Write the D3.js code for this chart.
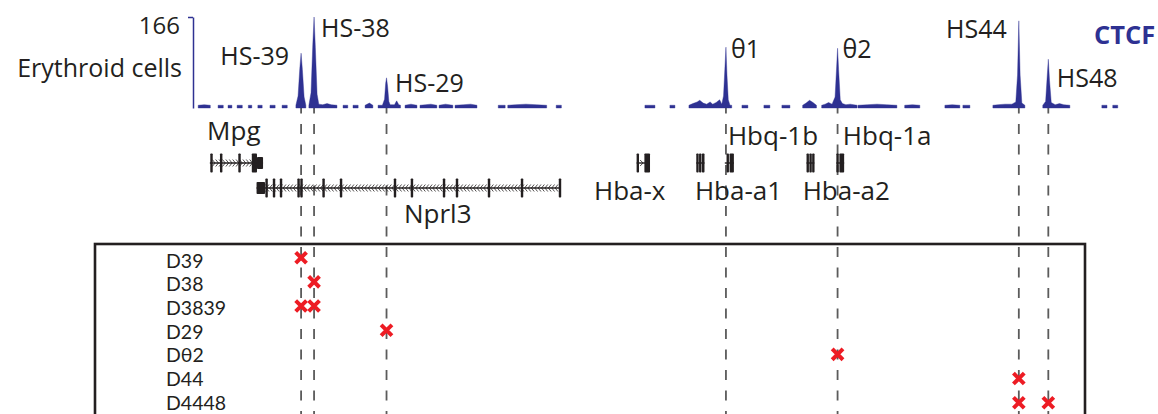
<!DOCTYPE html>
<html>
<head>
<meta charset="utf-8">
<script src="https://cdn.jsdelivr.net/npm/d3@7"></script>
<style>
  body { margin: 0; background: #fff; }
  svg { display: block; }
  text { font-family: "Open Sans", sans-serif; fill: #231f20; }
</style>
</head>
<body>
<svg id="chart" width="1158" height="414"></svg>
<script>
// ---------------- DATA ----------------
const trackName = "Erythroid cells";
const trackMax = 166;
const factorName = "CTCF";

// CTCF peaks (position in kb relative to Hba-x, height in signal units)
const peakNames  = ["HS-39", "HS-38", "HS-29", "θ1", "θ2", "HS44", "HS48"];
const peakPos    = [-39.0, -37.5, -29.12, 10.13, 23.04, 44.0, 47.41];
const peakHeight = [100, 166, 55, 111, 109, 159, 89];

// CTCF signal: segments of [kb, value]
const signalSegments = [
  [[-50.9,5],[-50.2,6],[-49.5,5]],
  [[-48.6,5],[-48.0,5]],
  [[-47.45,5],[-47.0,5]],
  [[-46.4,5],[-45.8,5]],
  [[-45.1,5],[-44.7,5]],
  [[-44.0,5],[-43.5,5]],
  [[-42.6,5],[-42.0,5]],
  [[-41.2,5],[-40.6,5]],
  [[-39.6,5],[-39.35,22],[-39.15,72],[-39.0,100],[-38.85,70],[-38.65,20],[-38.45,5]],
  [[-38.1,5],[-37.85,28],[-37.65,115],[-37.5,166],[-37.35,110],[-37.15,25],[-36.95,7],[-36.5,6],[-36.0,8],[-35.5,6],[-34.85,5]],
  [[-34.15,5],[-33.6,5]],
  [[-33.0,5],[-32.4,5]],
  [[-31.6,5],[-31.1,9],[-30.7,5]],
  [[-30.1,5],[-29.6,5],[-29.35,16],[-29.22,45],[-29.12,55],[-29.0,40],[-28.85,12],[-28.7,6],[-28.2,6],[-27.95,13],[-27.7,6],[-27.5,5]],
  [[-26.98,5],[-26.3,7],[-25.6,5]],
  [[-25.25,5],[-24.6,6],[-24.0,7],[-23.3,5]],
  [[-23.05,5],[-22.3,7],[-21.45,5]],
  [[-21.2,5],[-20.2,6],[-19.4,7],[-18.66,5]],
  [[-16.2,5],[-15.4,5]],
  [[-15.1,5],[-14.2,6],[-13.0,7],[-11.8,6],[-10.6,5]],
  [[-9.5,5],[-8.9,5]],
  [[0.76,5],[1.92,5]],
  [[3.65,5],[4.23,5]],
  [[5.85,5],[6.3,8],[6.8,11],[7.1,14],[7.5,9],[7.9,7],[8.3,11],[8.6,7],[9.0,10],[9.4,15],[9.65,7],[9.85,22],[10.0,70],[10.13,111],[10.25,60],[10.4,15],[10.6,5],[10.8,5]],
  [[11.98,5],[12.67,5]],
  [[14.52,5],[15.21,5]],
  [[16.6,5],[17.53,5]],
  [[19.0,5],[19.4,9],[19.8,14],[20.2,10],[20.6,5]],
  [[21.2,5],[21.6,7],[22.0,10],[22.4,7],[22.75,20],[22.93,75],[23.04,109],[23.16,70],[23.35,15],[23.6,8],[24.0,6],[24.5,7],[25.3,5]],
  [[25.4,5],[26.5,6],[27.6,7],[28.7,6],[29.9,5]],
  [[30.8,5],[31.7,6],[32.55,5]],
  [[35.45,5],[36.3,6],[37.18,5]],
  [[37.53,5],[38.34,5]],
  [[41.0,5],[41.6,6],[42.4,7],[43.2,7],[43.65,11],[43.85,60],[44.0,159],[44.15,60],[44.35,9],[44.7,5]],
  [[46.77,5],[47.1,12],[47.27,55],[47.41,89],[47.55,50],[47.75,10],[48.2,6],[48.7,8],[49.2,6],[49.9,5]],
  [[53.6,5],[54.2,5]],
  [[54.86,5],[55.44,5]]
];

// Genes
const geneNames  = ["Mpg", "Nprl3", "Hba-x", "Hba-a1", "Hbq-1b", "Hba-a2", "Hbq-1a"];
const geneStrand = ["+", "-", "+", "+", "+", "+", "+"];
const geneStart  = [-49.55, -44.15, -0.2, 6.7, 10.0, 19.45, 22.9];
const geneEnd    = [-43.4, -8.95, 1.35, 7.65, 11.05, 20.35, 23.8];
const geneExons  = [
  [[-49.5,-49.22,"cds"],[-48.38,-48.1,"cds"],[-46.26,-45.98,"cds"],[-44.7,-44.1,"cds"],[-44.1,-43.4,"utr"]],
  [[-44.15,-43.17,"utr"],[-43.13,-42.85,"cds"],[-42.27,-41.99,"cds"],[-41.46,-41.18,"cds"],[-39.43,-39.15,"cds"],
   [-39.09,-38.81,"cds"],[-36.54,-36.26,"cds"],[-34.52,-34.24,"cds"],[-28.28,-28.0,"cds"],[-26.32,-26.04,"cds"],
   [-22.61,-22.33,"cds"],[-21.11,-20.83,"cds"],[-17.41,-17.13,"cds"],[-13.59,-13.31,"cds"],[-9.2,-8.92,"cds"]],
  [[-0.2,0.05,"cds"],[0.7,1.35,"cds"]],
  [[6.7,6.95,"cds"],[7.02,7.27,"cds"],[7.35,7.65,"cds"]],
  [[10.2,10.45,"cds"],[10.55,11.05,"cds"]],
  [[19.45,19.7,"cds"],[19.78,20.03,"cds"],[20.1,20.35,"cds"]],
  [[22.9,23.15,"cds"],[23.25,23.8,"cds"]]
];

// Deletion alleles
const rowNames     = ["D39", "D38", "D3839", "D29", "Dθ2", "D44", "D4448"];
const rowDeletions = [["HS-39"], ["HS-38"], ["HS-39","HS-38"], ["HS-29"], ["θ2"], ["HS44"], ["HS44","HS48"]];

// ---------------- LAYOUT / STYLE ----------------
const BLUE = "#2e3192", INK = "#231f20", RED = "#ed1c24", DASH = "#5b5b5b";
const geneRowY = [163, 188, 163, 163, 163, 163, 163];
const geneLabel = [ // [kb anchor, baseline y]
  [-49.87, 140], [-27.10, 223], [-5.13, 200], [6.54, 200], [10.36, 145], [19.0, 200], [23.65, 145]
];
const peakLabel = { // [dx from peak, baseline y, anchor]
  "HS-39": [-12, 65, "end"], "HS-38": [7, 37, "start"], "HS-29": [8.5, 92, "start"],
  "θ1": [5, 58, "start"], "θ2": [5, 58, "start"], "HS44": [-12, 38, "end"], "HS48": [8.5, 87, "start"]
};

const svg = d3.select("#chart");
const x = d3.scaleLinear().domain([-51.5, 55.7]).range([193, 1120]);
const y = d3.scaleLinear().domain([0, trackMax]).range([108, 17]);
const rowY = d3.scalePoint().domain(rowNames).range([257.7, 402.7]);      // marker centres
const rowLabelY = d3.scalePoint().domain(rowNames).range([267.5, 409.5]); // label baselines

// ---- dashed guide lines
svg.append("g").selectAll("line").data(peakPos).join("line")
  .attr("x1", d => x(d)).attr("x2", d => x(d))
  .attr("y1", 103.5).attr("y2", 430)
  .attr("stroke", DASH).attr("stroke-width", 1.8)
  .attr("stroke-dasharray", "10,10.5");

// ---- signal track
const area = d3.area().x(d => x(d[0])).y0(y(0)).y1(d => y(d[1]));
svg.append("g").selectAll("path").data(signalSegments).join("path")
  .attr("d", area).attr("fill", BLUE).attr("stroke", BLUE).attr("stroke-width", 0.4);

// axis bracket
const axis = d3.axisLeft(y).tickValues([trackMax]).tickSize(5).tickSizeOuter(0).tickPadding(8);
const ag = svg.append("g").attr("transform", `translate(${x(-51.5)},0)`).call(axis);
ag.select(".domain").attr("stroke", BLUE).attr("stroke-width", 1.5);
ag.selectAll(".tick line").attr("stroke", BLUE).attr("stroke-width", 1.5);
ag.selectAll(".tick text").attr("fill", INK).style("font-family", "'Open Sans', sans-serif")
  .style("font-size", "24px").attr("dy", "0.7em");

svg.append("text").attr("x", 182).attr("y", 77).attr("text-anchor", "end")
  .style("font-size", "25px").text(trackName);
svg.append("text").attr("x", 1094).attr("y", 43.5)
  .style("font-size", "25.5px").style("font-weight", "700").style("fill", BLUE).text(factorName);

// peak labels
svg.append("g").selectAll("text").data(peakNames).join("text")
  .attr("x", (d, i) => x(peakPos[i]) + peakLabel[d][0])
  .attr("y", d => peakLabel[d][1])
  .attr("text-anchor", d => peakLabel[d][2])
  .style("font-size", "25px").text(d => d);

// ---- genes
const gg = svg.append("g");
geneNames.forEach((name, i) => {
  const g = gg.append("g");
  const cy = geneRowY[i];
  const x0 = x(geneStart[i]), x1 = x(geneEnd[i]);
  g.append("line").attr("x1", x0).attr("x2", x1).attr("y1", cy).attr("y2", cy)
    .attr("stroke", INK).attr("stroke-width", 1.4);
  // chevrons for strand direction (decoration)
  if (x1 - x0 > 20) {
    const dir = geneStrand[i] === "+" ? 1 : -1;
    const chev = d3.range(x0 + 4, x1 - 2, 3.4);
    g.selectAll("path.chev").data(chev).join("path").attr("class", "chev")
      .attr("d", c => `M${c - dir * 1.6},${cy - 3.5}L${c + dir * 1.2},${cy}L${c - dir * 1.6},${cy + 3.5}`)
      .attr("fill", "none").attr("stroke", INK).attr("stroke-width", 0.8);
  } else if (name === "Hba-x") {
    const c = x0 + 5;
    g.append("path").attr("d", `M${c - 1.5},${cy - 3}L${c + 1.5},${cy}L${c - 1.5},${cy + 3}`)
      .attr("fill", "none").attr("stroke", INK).attr("stroke-width", 0.8);
  }
  g.selectAll("rect").data(geneExons[i]).join("rect")
    .attr("x", d => x(d[0])).attr("width", d => Math.max(2.4, x(d[1]) - x(d[0])))
    .attr("y", d => d[2] === "cds" ? cy - 9.5 : cy - 6)
    .attr("height", d => d[2] === "cds" ? 19 : 12)
    .attr("rx", 0.8).attr("fill", INK);
  g.append("text").attr("x", x(geneLabel[i][0])).attr("y", geneLabel[i][1])
    .style("font-size", "26px").text(name);
});

// ---- deletion panel
svg.append("rect").attr("x", 95).attr("y", 244).attr("width", 990).attr("height", 220)
  .attr("fill", "none").attr("stroke", INK).attr("stroke-width", 2.6);

svg.append("g").selectAll("text").data(rowNames).join("text")
  .attr("x", 166).attr("y", d => rowLabelY(d))
  .style("font-family", "Lato, 'Open Sans', sans-serif")
  .style("font-size", "19.5px").text(d => d);

const cross = d3.symbol(d3.symbolX, 78)();
const marks = rowNames.flatMap((r, i) => rowDeletions[i].map(p => ({ r, pos: peakPos[peakNames.indexOf(p)] })));
svg.append("g").selectAll("path").data(marks).join("path")
  .attr("d", cross)
  .attr("transform", d => `translate(${x(d.pos)},${rowY(d.r)})`)
  .attr("fill", "none").attr("stroke", RED).attr("stroke-width", 4);
</script>
</body>
</html>
